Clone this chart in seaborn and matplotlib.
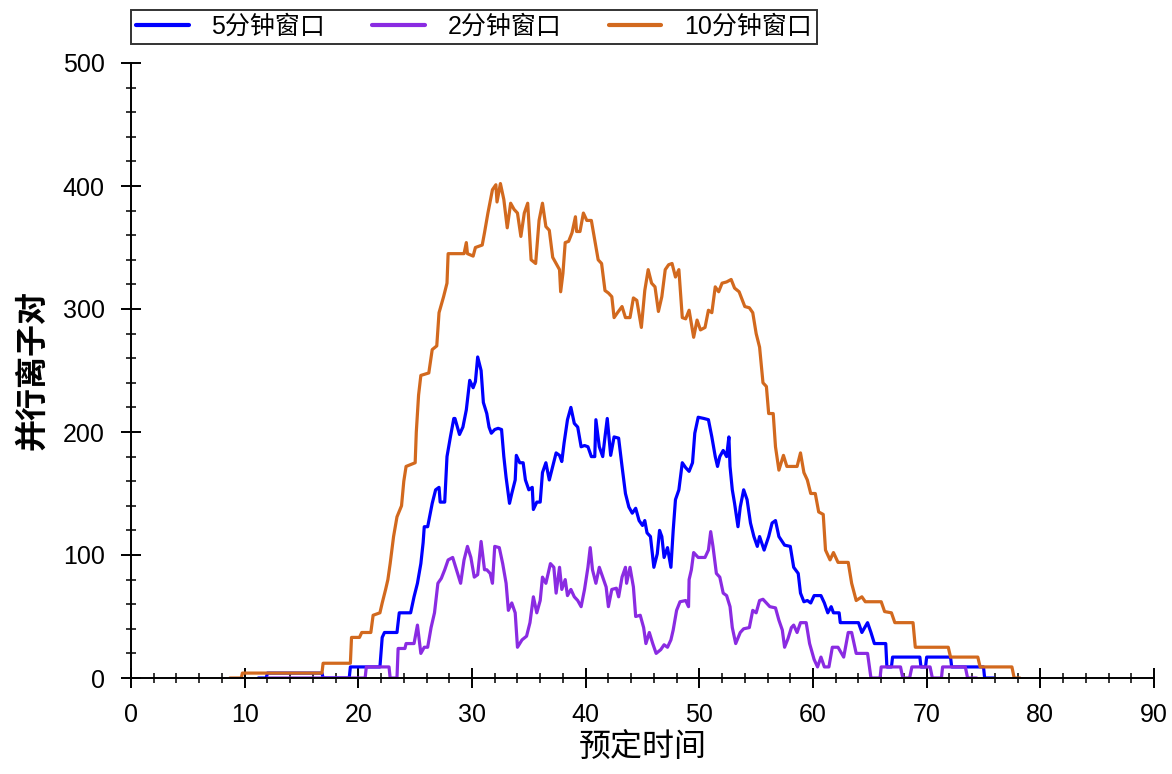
import pandas as pd
import seaborn as sns
import matplotlib.pyplot as plt
from matplotlib.ticker import MultipleLocator

# 10分钟窗口
t10 = [8.7, 9.7, 9.8, 16.8, 16.9, 19.3, 19.4, 20.1, 20.3, 21.1, 21.3, 21.9, 22.1, 22.4, 22.6, 22.8,
       23.1, 23.4, 23.8, 24.0, 24.2, 25.0, 25.1, 25.3, 25.5, 26.2, 26.5, 26.9, 27.1, 27.5, 27.8, 27.9,
       29.3, 29.5, 29.6, 30.1, 30.3, 30.9, 31.1, 31.4, 31.8, 32.1, 32.2, 32.5, 32.8, 33.1, 33.4, 33.7,
       34.0, 34.3, 34.6, 34.9, 35.2, 35.6, 35.9, 36.2, 36.5, 36.8, 37.1, 37.4, 37.7, 37.8, 38.0, 38.2,
       38.5, 38.8, 39.1, 39.2, 39.5, 39.8, 40.1, 40.5, 40.8, 41.1, 41.4, 41.7, 42.0, 42.3, 42.5, 42.8,
       43.2, 43.5, 43.9, 44.2, 44.5, 44.9, 45.2, 45.5, 45.8, 46.1, 46.4, 46.7, 47.0, 47.3, 47.6, 47.9,
       48.2, 48.5, 48.8, 49.1, 49.5, 49.8, 50.1, 50.5, 50.8, 51.1, 51.4, 51.7, 52.0, 52.4, 52.8, 53.1,
       53.5, 54.0, 54.4, 54.7, 55.0, 55.3, 55.6, 55.9, 56.1, 56.5, 56.7, 57.0, 57.4, 57.7, 58.6, 58.9,
       59.2, 59.5, 59.8, 60.2, 60.5, 60.9, 61.1, 61.5, 61.8, 62.2, 63.1, 63.4, 63.8, 64.3, 64.6, 66.0,
       66.3, 66.9, 67.2, 68.8, 69.0, 71.9, 72.1, 74.5, 74.7, 77.5, 77.7, 78.2]
v10 = [0, 0, 4, 4, 12, 12, 33, 33, 37, 37, 51, 53, 61, 72, 80, 93,
       115, 131, 140, 160, 172, 175, 200, 230, 246, 248, 267, 270, 297, 310, 321, 345,
       345, 354, 345, 343, 350, 352, 362, 378, 397, 401, 387, 402, 389, 366, 386, 381,
       378, 359, 378, 386, 340, 337, 372, 386, 367, 364, 342, 337, 332, 314, 329, 354,
       355, 362, 375, 363, 363, 378, 372, 372, 356, 340, 337, 315, 313, 310, 293, 297,
       302, 293, 293, 309, 307, 285, 315, 332, 321, 318, 298, 310, 332, 336, 337, 326,
       332, 293, 292, 299, 277, 291, 283, 285, 299, 297, 318, 314, 321, 322, 324, 317,
       314, 302, 301, 297, 280, 269, 240, 237, 215, 215, 188, 169, 181, 172, 172, 183,
       167, 161, 150, 150, 135, 133, 104, 96, 102, 94, 94, 77, 63, 66, 62, 62,
       54, 53, 45, 45, 25, 25, 17, 17, 9, 9, 0, 0]

# 5分钟窗口
t5 = [11.2, 11.9, 12.0, 16.8, 16.9, 19.2, 19.3, 21.9, 22.1, 22.3, 23.4, 23.6, 24.6, 24.9, 25.2, 25.5,
      25.7, 25.8, 26.1, 26.5, 26.8, 27.1, 27.2, 27.6, 27.8, 28.1, 28.4, 28.5, 28.9, 29.2, 29.5, 29.8,
      30.1, 30.3, 30.5, 30.8, 31.0, 31.3, 31.5, 31.7, 32.0, 32.3, 32.6, 32.8, 33.0, 33.3, 33.5, 33.8,
      33.9, 34.2, 34.5, 34.7, 35.0, 35.3, 35.4, 35.7, 36.0, 36.2, 36.5, 36.8, 37.1, 37.4, 37.7, 37.9,
      38.1, 38.4, 38.7, 39.0, 39.3, 39.6, 39.9, 40.2, 40.5, 40.8, 40.9, 41.2, 41.5, 41.7, 41.9, 42.2,
      42.5, 42.9, 43.2, 43.5, 43.8, 44.1, 44.4, 44.7, 45.0, 45.2, 45.4, 45.7, 46.0, 46.3, 46.5, 46.7,
      46.9, 47.2, 47.5, 47.7, 47.9, 48.2, 48.5, 48.8, 49.1, 49.4, 49.6, 49.9, 50.4, 50.8, 51.1, 51.4,
      51.6, 51.8, 52.1, 52.4, 52.6, 52.7, 52.9, 53.1, 53.4, 53.6, 53.9, 54.2, 54.5, 54.8, 55.1, 55.3,
      55.7, 56.1, 56.4, 56.7, 57.0, 57.5, 58.0, 58.3, 58.7, 58.9, 59.2, 59.5, 59.8, 60.1, 60.7, 61.0,
      61.3, 61.6, 61.8, 62.3, 62.4, 64.0, 64.3, 64.8, 65.1, 65.4, 66.4, 66.5, 66.9, 67.0, 69.4, 69.5,
      69.9, 70.0, 72.1, 72.2, 75.0, 75.1, 75.9]
v5 = [0, 0, 4, 4, 0, 0, 9, 9, 33, 37, 37, 53, 53, 66, 77, 93,
      110, 123, 123, 142, 153, 155, 143, 143, 180, 196, 211, 211, 198, 204, 218, 242,
      236, 241, 261, 250, 224, 215, 204, 199, 202, 203, 202, 180, 163, 142, 150, 161,
      181, 175, 175, 161, 153, 155, 137, 143, 143, 167, 175, 161, 172, 183, 181, 176,
      191, 210, 220, 207, 204, 188, 189, 188, 180, 180, 210, 188, 180, 196, 211, 181,
      196, 195, 172, 150, 139, 134, 138, 128, 124, 128, 118, 115, 90, 101, 120, 115,
      98, 106, 90, 120, 145, 153, 175, 171, 168, 175, 199, 212, 211, 210, 196, 180,
      172, 180, 185, 180, 196, 172, 153, 142, 123, 139, 153, 145, 126, 115, 107, 115,
      104, 115, 126, 128, 115, 108, 107, 90, 85, 69, 62, 63, 61, 67, 67, 61,
      53, 58, 53, 53, 45, 45, 37, 45, 37, 28, 28, 9, 9, 17, 17, 9,
      9, 17, 17, 9, 9, 0, 0]

# 2分钟窗口
t2 = [12.0, 20.6, 20.7, 22.7, 22.8, 23.4, 23.5, 24.1, 24.2, 24.9, 25.2, 25.4, 25.5, 25.8, 26.1, 26.4,
      26.7, 27.0, 27.3, 27.6, 27.9, 28.3, 28.6, 29.0, 29.3, 29.6, 29.9, 30.2, 30.5, 30.8, 31.1, 31.3,
      31.6, 31.8, 32.0, 32.4, 32.7, 33.0, 33.2, 33.5, 33.8, 34.0, 34.4, 34.8, 35.1, 35.4, 35.7, 36.0,
      36.2, 36.5, 36.9, 37.2, 37.4, 37.7, 37.9, 38.2, 38.4, 38.7, 39.0, 39.3, 39.6, 39.9, 40.2, 40.4,
      40.6, 40.9, 41.2, 41.5, 41.8, 42.0, 42.3, 42.7, 42.9, 43.2, 43.5, 43.6, 43.9, 44.2, 44.4, 44.8,
      45.1, 45.3, 45.6, 45.9, 46.2, 46.6, 46.9, 47.2, 47.5, 47.7, 48.0, 48.3, 48.8, 49.05, 49.1, 49.3,
      49.5, 49.9, 50.5, 50.8, 51.0, 51.2, 51.5, 51.8, 52.1, 52.4, 52.7, 52.9, 53.2, 53.6, 53.9, 54.4,
      54.7, 55.0, 55.3, 55.6, 55.9, 56.2, 56.7, 57.0, 57.3, 57.5, 57.8, 58.1, 58.3, 58.6, 58.9, 59.4,
      59.7, 60.1, 60.4, 60.7, 61.0, 61.4, 61.7, 62.2, 62.7, 63.1, 63.4, 63.8, 64.8, 65.1, 65.9, 66.0,
      67.7, 67.9, 68.5, 68.7, 70.3, 70.5, 71.3, 71.4, 73.4, 73.6, 74.4]
v2 = [0, 0, 9, 9, 0, 0, 24, 24, 28, 28, 43, 28, 20, 25, 25, 41,
      53, 77, 81, 88, 96, 98, 89, 77, 96, 107, 98, 82, 84, 111, 88, 88,
      85, 77, 107, 106, 93, 77, 55, 61, 53, 25, 31, 34, 45, 66, 53, 63,
      82, 77, 93, 90, 69, 90, 72, 80, 67, 72, 66, 63, 58, 72, 90, 106,
      88, 77, 90, 82, 74, 58, 72, 73, 66, 82, 90, 77, 90, 74, 50, 51,
      41, 28, 37, 28, 20, 23, 27, 25, 31, 39, 55, 62, 63, 58, 80, 88,
      102, 98, 98, 104, 119, 107, 85, 82, 69, 67, 58, 41, 28, 37, 40, 41,
      55, 53, 63, 64, 61, 58, 57, 47, 39, 25, 32, 41, 43, 37, 45, 45,
      28, 15, 9, 17, 9, 9, 25, 25, 17, 37, 37, 20, 20, 0, 0, 9,
      9, 0, 0, 9, 9, 0, 0, 9, 9, 0, 0]

labels = ['5分钟窗口', '2分钟窗口', '10分钟窗口']
colors = ['#0000ff', '#8a2be2', '#d2691e']

sns.set_style('ticks')
plt.rcParams['font.family'] = ['Liberation Sans', 'Noto Sans CJK SC', 'DejaVu Sans']
plt.rcParams['text.color'] = 'black'
plt.rcParams['axes.labelcolor'] = 'black'
plt.rcParams['xtick.color'] = 'black'
plt.rcParams['ytick.color'] = 'black'

fig, ax = plt.subplots(figsize=(11.72, 7.74), dpi=100)
fig.subplots_adjust(left=131/1172, right=1154/1172, bottom=1-678/774, top=1-63/774)

for t, v, lab, c in zip([t5, t2, t10], [v5, v2, v10], labels, colors):
    df = pd.DataFrame({'t': t, 'v': v})
    sns.lineplot(data=df, x='t', y='v', ax=ax, color=c, linewidth=2.3,
                 estimator=None, sort=False, label=lab)

ax.set_xlim(0, 90)
ax.set_ylim(0, 500)
ax.xaxis.set_major_locator(MultipleLocator(10))
ax.xaxis.set_minor_locator(MultipleLocator(2))
ax.yaxis.set_major_locator(MultipleLocator(100))
ax.yaxis.set_minor_locator(MultipleLocator(20))
ax.tick_params(which='major', direction='inout', length=14, width=1.4, labelsize=18)
ax.tick_params(axis='x', which='major', pad=11)
ax.tick_params(axis='y', which='major', pad=12)
ax.tick_params(which='minor', direction='inout', length=7, width=1.1)
for s in ['left', 'bottom']:
    ax.spines[s].set_linewidth(1.4)
    ax.spines[s].set_color('black')
sns.despine(ax=ax)

ax.set_xlabel('预定时间', fontsize=23, labelpad=5)
ax.set_ylabel('并行离子对', fontsize=23, fontweight='bold', labelpad=10)

leg = ax.legend(loc='upper left', bbox_to_anchor=(0, 1 + 53/615), ncol=3, fontsize=18,
                frameon=True, fancybox=False, edgecolor='black', borderaxespad=0,
                handlelength=2.1, handletextpad=0.9, columnspacing=1.9,
                borderpad=0.2)
leg.get_frame().set_linewidth(1.4)
for line in leg.get_lines():
    line.set_linewidth(3)

fig.savefig('out.png', dpi=100)
